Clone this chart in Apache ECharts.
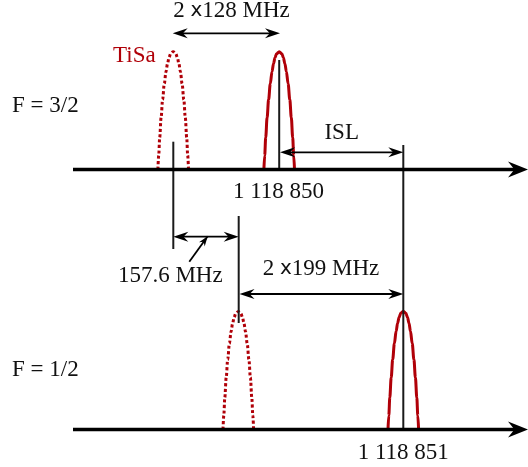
<!DOCTYPE html>
<html><head><meta charset="utf-8">
<script src="https://cdn.jsdelivr.net/npm/echarts@6/dist/echarts.min.js"></script>
<style>html,body{margin:0;padding:0;background:#fff}#c{width:528px;height:467px}</style>
</head><body><div id="c"></div>
<script>
// ---- diagram data (x: frequency position, y: vertical position, downward) ----
const axisLevels = [169.5, 429.5];                 // y of the two frequency axes
const axisExtent = [73, 528];                      // x start / arrow tip
const levelNames = ['F = 3/2', 'F = 1/2'];
const tisaPeaks = [[173.2, 51.7, 169.5], [238.3, 311.5, 429.5]];   // [centre, top, base] dotted
const cavityPeaks = [[279.2, 51.7, 169.5], [403.3, 311.3, 429.5]]; // [centre, top, base] solid
const peakDepth = [0, 2, 6, 12, 20, 32, 48, 66, 86, 104, 118];          // depth below peak top
const peakHalfWidth = [0, 2.6, 4.2, 5.7, 7.2, 8.9, 10.6, 12.1, 13.5, 14.5, 15.3];
const markerLines = [[173.3, 141.7, 249], [279.2, 60, 169.5], [403.3, 145, 429.5], [238.7, 216, 323]]; // [x, yTop, yBottom]
const spans = [[172.7, 280, 33.3], [280, 403.3, 152.3], [173.3, 238.7, 236.7], [239.5, 403.3, 294]]; // [x1, x2, y]
const pointer = [189.3, 261.7, 207.7, 236.3];      // [x1, y1, x2, y2] arrow at second end
const labelTexts = ['2 {x|x}128 MHz', 'TiSa', levelNames[0], 'ISL', '1 118 850', '157.6 MHz', '2 {x|x}199 MHz', levelNames[1], '1 118 851'];
const labelX = [231.5, 113, 12, 341.7, 278.5, 170.3, 321, 12, 403.3];
const labelY = [10.8, 55.8, 105.8, 133.2, 191.8, 275.8, 269.2, 370.2, 453.2];
const labelAlign = ['center', 'left', 'left', 'center', 'center', 'center', 'center', 'left', 'center'];
const labelIsTisa = [false, true, false, false, false, false, false, false, false];

const RED = '#b00008', INK = '#111', LINE = '#1a1a1a';
const FONT = 'Liberation Serif';

function peakPoints(p) {
  const pts = [];
  for (let i = peakDepth.length - 1; i >= 0; i--) pts.push([p[0] - peakHalfWidth[i], p[1] + peakDepth[i] * (p[2] - p[1]) / 118]);
  for (let i = 1; i < peakDepth.length; i++) pts.push([p[0] + peakHalfWidth[i], p[1] + peakDepth[i] * (p[2] - p[1]) / 118]);
  return pts;
}
function head(tip, from, L, W) {
  const dx = tip[0] - from[0], dy = tip[1] - from[1], len = Math.hypot(dx, dy);
  const ux = dx / len, uy = dy / len, nx = -uy, ny = ux;
  return [tip,
    [tip[0] - ux * L + nx * W / 2, tip[1] - uy * L + ny * W / 2],
    [tip[0] - ux * L * 0.68, tip[1] - uy * L * 0.68],
    [tip[0] - ux * L - nx * W / 2, tip[1] - uy * L - ny * W / 2]];
}

const series = [];
tisaPeaks.forEach(p => series.push({
  type: 'line', data: peakPoints(p), smooth: 0.35, smoothMonotone: 'x', showSymbol: false, silent: true,
  lineStyle: { color: RED, width: 3, type: [3, 2.4], cap: 'butt' }, z: 2
}));
cavityPeaks.forEach(p => series.push({
  type: 'line', data: peakPoints(p), smooth: 0.35, smoothMonotone: 'x', showSymbol: false, silent: true,
  lineStyle: { color: RED, width: 3 }, z: 2
}));
// vertical marker lines
series.push({
  type: 'custom', silent: true, z: 3, data: markerLines.map(m => [m[0], m[1], m[2]]),
  renderItem: (params, api) => {
    const a = api.coord([api.value(0), api.value(1)]), b = api.coord([api.value(0), api.value(2)]);
    return { type: 'line', shape: { x1: a[0], y1: a[1], x2: b[0], y2: b[1] }, style: { stroke: LINE, lineWidth: 2 } };
  }
});
// frequency axes with arrows
series.push({
  type: 'custom', silent: true, z: 4, data: axisLevels.map(y => [axisExtent[0], y, axisExtent[1]]),
  renderItem: (params, api) => {
    const a = api.coord([api.value(0), api.value(1)]), t = api.coord([api.value(2), api.value(1)]);
    const L = 20, W = 16;
    return { type: 'group', children: [
      { type: 'line', shape: { x1: a[0], y1: a[1], x2: t[0] - L * 0.6, y2: t[1] }, style: { stroke: '#000', lineWidth: 3.5 } },
      { type: 'polygon', shape: { points: head(t, a, L, W) }, style: { fill: '#000' } }
    ] };
  }
});
// double-headed dimension arrows
series.push({
  type: 'custom', silent: true, z: 5, data: spans.map(s => [s[0], s[2], s[1]]),
  renderItem: (params, api) => {
    const a = api.coord([api.value(0), api.value(1)]), b = api.coord([api.value(2), api.value(1)]);
    const L = 15, W = 10;
    return { type: 'group', children: [
      { type: 'line', shape: { x1: a[0] + 8, y1: a[1], x2: b[0] - 8, y2: b[1] }, style: { stroke: '#000', lineWidth: 1.8 } },
      { type: 'polygon', shape: { points: head(a, b, L, W) }, style: { fill: '#000' } },
      { type: 'polygon', shape: { points: head(b, a, L, W) }, style: { fill: '#000' } }
    ] };
  }
});
// pointer arrow
series.push({
  type: 'custom', silent: true, z: 5, data: [pointer],
  renderItem: (params, api) => {
    const a = api.coord([api.value(0), api.value(1)]), b = api.coord([api.value(2), api.value(3)]);
    return { type: 'group', children: [
      { type: 'line', shape: { x1: a[0], y1: a[1], x2: b[0], y2: b[1] }, style: { stroke: '#000', lineWidth: 1.8 } },
      { type: 'polygon', shape: { points: head(b, a, 10, 7) }, style: { fill: '#000' } }
    ] };
  }
});
// text labels
series.push({
  type: 'custom', silent: true, z: 6, data: labelX.map((x, i) => [x, labelY[i]]),
  renderItem: (params, api) => {
    const i = params.dataIndex;
    const p = api.coord([api.value(0), api.value(1)]);
    const fill = labelIsTisa[i] ? RED : INK;
    return { type: 'text', x: p[0], y: p[1], style: {
      text: labelTexts[i], fill: fill, fontFamily: FONT, fontSize: 23,
      align: labelAlign[i], verticalAlign: 'middle',
      rich: { x: { fontFamily: 'DejaVu Sans', fontSize: 20, fill: fill } }
    } };
  }
});

const chart = echarts.init(document.getElementById('c'), null, { renderer: 'canvas' });
chart.setOption({
  animation: false,
  backgroundColor: '#fff',
  grid: { left: 0, right: 0, top: 0, bottom: 0 },
  xAxis: { type: 'value', min: 0, max: 528, show: false },
  yAxis: { type: 'value', min: 0, max: 467, inverse: true, show: false },
  series: series
});
</script></body></html>
